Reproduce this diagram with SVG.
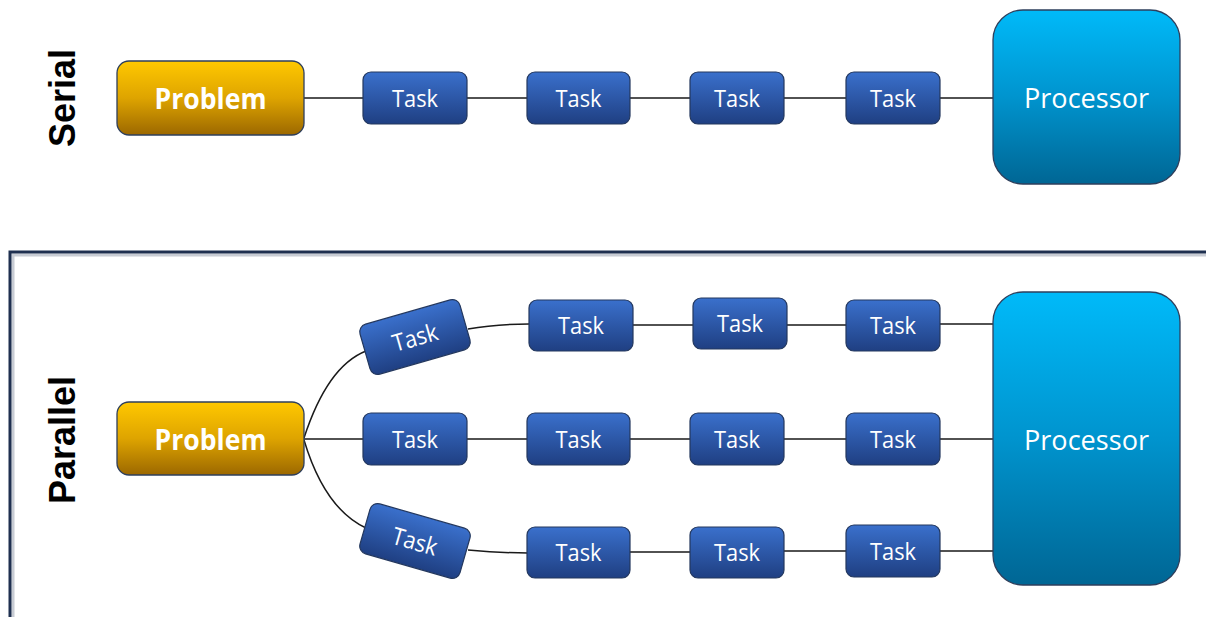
<svg xmlns="http://www.w3.org/2000/svg" width="1206" height="617" viewBox="0 0 1206 617">
  <defs>
    <linearGradient id="gold" x1="0" y1="0" x2="0" y2="1">
      <stop offset="0" stop-color="#FFC800"/>
      <stop offset="0.5" stop-color="#DEA400"/>
      <stop offset="1" stop-color="#9C6800"/>
    </linearGradient>
    <linearGradient id="blue" x1="0" y1="0" x2="0" y2="1">
      <stop offset="0" stop-color="#3A70CC"/>
      <stop offset="1" stop-color="#1F3F82"/>
    </linearGradient>
    <linearGradient id="cyan" x1="0" y1="0" x2="0" y2="1">
      <stop offset="0" stop-color="#00BAF9"/>
      <stop offset="0.5" stop-color="#0094CE"/>
      <stop offset="1" stop-color="#006694"/>
    </linearGradient>
    <style>
      .problem { fill: url(#gold); stroke: #2E3F5C; stroke-width: 1.3; }
      .task { fill: url(#blue); stroke: #24385E; stroke-width: 1.2; }
      .proc { fill: url(#cyan); stroke: #2E3F5C; stroke-width: 1.3; }
      .ptxt { font-family: "Open Sans", "Noto Sans", sans-serif; font-weight: bold; font-size: 28px; fill: #FFFFFF; text-anchor: middle; }
      .ttxt { font-family: "Open Sans", "Noto Sans", sans-serif; font-size: 24px; fill: #FFFFFF; text-anchor: middle; }
      .ctxt { font-family: "Open Sans", "Noto Sans", sans-serif; font-size: 28px; fill: #FFFFFF; text-anchor: middle; }
      .side { font-family: "Liberation Sans", Arial, sans-serif; font-weight: bold; font-size: 36px; fill: #000000; text-anchor: middle; }
      .conn { fill: none; stroke: #1A1A1A; stroke-width: 1.5; }
    </style>
  </defs>
  <rect width="1206" height="617" fill="#FFFFFF"/>

  <!-- frame around the parallel section -->
  <g id="frame">
    <path d="M13,617 V255 H1206" fill="none" stroke="#C8CCD4" stroke-width="3"/>
    <path d="M10,617 V252 H1206" fill="none" stroke="#1F3050" stroke-width="3"/>
  </g>

  <!-- section labels -->
  <text class="side" transform="translate(75,98) rotate(-90)">Serial</text>
  <text class="side" transform="translate(75,440) rotate(-90)">Parallel</text>

  <!-- connectors -->
  <g id="connectors" class="conn">
    <!-- serial -->
    <path d="M304,98 H363 M467,98 H527 M630,98 H690 M784,98 H846 M940,98 H993"/>
    <!-- parallel: top branch -->
    <path d="M304,438 C318,395 338,362 366,351"/>
    <path d="M468,329 C490,325 510,324 529,324"/>
    <path d="M633,325 H693 M787,325 H846 M940,324 H993"/>
    <!-- parallel: middle branch -->
    <path d="M304,439 H363 M467,439 H527 M630,439 H690 M784,439 H846 M940,439 H993"/>
    <!-- parallel: bottom branch -->
    <path d="M304,440 C316,480 336,514 366,528"/>
    <path d="M468,550 C490,552 510,553 528,553"/>
    <path d="M630,552 H690 M784,551 H846 M940,551 H993"/>
  </g>

  <!-- serial nodes -->
  <g id="serial-problem">
    <rect class="problem" x="117" y="61" width="187" height="74" rx="12"/>
    <text class="ptxt" x="210.5" y="109" textLength="112" lengthAdjust="spacingAndGlyphs">Problem</text>
  </g>
  <g id="serial-task-1">
    <rect class="task" x="363" y="72" width="104" height="52" rx="8"/>
    <text class="ttxt" x="415" y="107" textLength="46" lengthAdjust="spacingAndGlyphs">Task</text>
  </g>
  <g id="serial-task-2">
    <rect class="task" x="527" y="72" width="103" height="52" rx="8"/>
    <text class="ttxt" x="578.5" y="107" textLength="46" lengthAdjust="spacingAndGlyphs">Task</text>
  </g>
  <g id="serial-task-3">
    <rect class="task" x="690" y="72" width="94" height="52" rx="8"/>
    <text class="ttxt" x="737" y="107" textLength="46" lengthAdjust="spacingAndGlyphs">Task</text>
  </g>
  <g id="serial-task-4">
    <rect class="task" x="846" y="72" width="94" height="52" rx="8"/>
    <text class="ttxt" x="893" y="107" textLength="46" lengthAdjust="spacingAndGlyphs">Task</text>
  </g>
  <g id="serial-processor">
    <rect class="proc" x="993" y="10" width="187" height="174" rx="30"/>
    <text class="ctxt" x="1086.5" y="108" textLength="125" lengthAdjust="spacingAndGlyphs">Processor</text>
  </g>

  <!-- parallel nodes -->
  <g id="parallel-problem">
    <rect class="problem" x="117" y="402" width="187" height="73" rx="12"/>
    <text class="ptxt" x="210.5" y="450" textLength="112" lengthAdjust="spacingAndGlyphs">Problem</text>
  </g>

  <g id="parallel-top-task-1" transform="translate(415,337) rotate(-16)">
    <rect class="task" x="-52" y="-26" width="104" height="52" rx="8"/>
    <text class="ttxt" x="0" y="9" textLength="46" lengthAdjust="spacingAndGlyphs">Task</text>
  </g>
  <g id="parallel-top-task-2">
    <rect class="task" x="529" y="300" width="104" height="51" rx="8"/>
    <text class="ttxt" x="581" y="334" textLength="46" lengthAdjust="spacingAndGlyphs">Task</text>
  </g>
  <g id="parallel-top-task-3">
    <rect class="task" x="693" y="298" width="94" height="51" rx="8"/>
    <text class="ttxt" x="740" y="332" textLength="46" lengthAdjust="spacingAndGlyphs">Task</text>
  </g>
  <g id="parallel-top-task-4">
    <rect class="task" x="846" y="300" width="94" height="51" rx="8"/>
    <text class="ttxt" x="893" y="334" textLength="46" lengthAdjust="spacingAndGlyphs">Task</text>
  </g>

  <g id="parallel-mid-task-1">
    <rect class="task" x="363" y="413" width="104" height="52" rx="8"/>
    <text class="ttxt" x="415" y="448" textLength="46" lengthAdjust="spacingAndGlyphs">Task</text>
  </g>
  <g id="parallel-mid-task-2">
    <rect class="task" x="527" y="413" width="103" height="52" rx="8"/>
    <text class="ttxt" x="578.5" y="448" textLength="46" lengthAdjust="spacingAndGlyphs">Task</text>
  </g>
  <g id="parallel-mid-task-3">
    <rect class="task" x="690" y="413" width="94" height="52" rx="8"/>
    <text class="ttxt" x="737" y="448" textLength="46" lengthAdjust="spacingAndGlyphs">Task</text>
  </g>
  <g id="parallel-mid-task-4">
    <rect class="task" x="846" y="413" width="94" height="52" rx="8"/>
    <text class="ttxt" x="893" y="448" textLength="46" lengthAdjust="spacingAndGlyphs">Task</text>
  </g>

  <g id="parallel-bottom-task-1" transform="translate(415,541) rotate(16)">
    <rect class="task" x="-52" y="-26" width="104" height="52" rx="8"/>
    <text class="ttxt" x="0" y="9" textLength="46" lengthAdjust="spacingAndGlyphs">Task</text>
  </g>
  <g id="parallel-bottom-task-2">
    <rect class="task" x="527" y="527" width="103" height="51" rx="8"/>
    <text class="ttxt" x="578.5" y="561" textLength="46" lengthAdjust="spacingAndGlyphs">Task</text>
  </g>
  <g id="parallel-bottom-task-3">
    <rect class="task" x="690" y="527" width="94" height="51" rx="8"/>
    <text class="ttxt" x="737" y="561" textLength="46" lengthAdjust="spacingAndGlyphs">Task</text>
  </g>
  <g id="parallel-bottom-task-4">
    <rect class="task" x="846" y="525" width="94" height="52" rx="8"/>
    <text class="ttxt" x="893" y="560" textLength="46" lengthAdjust="spacingAndGlyphs">Task</text>
  </g>

  <g id="parallel-processor">
    <rect class="proc" x="993" y="292" width="187" height="293" rx="30"/>
    <text class="ctxt" x="1086.5" y="450" textLength="125" lengthAdjust="spacingAndGlyphs">Processor</text>
  </g>
</svg>
